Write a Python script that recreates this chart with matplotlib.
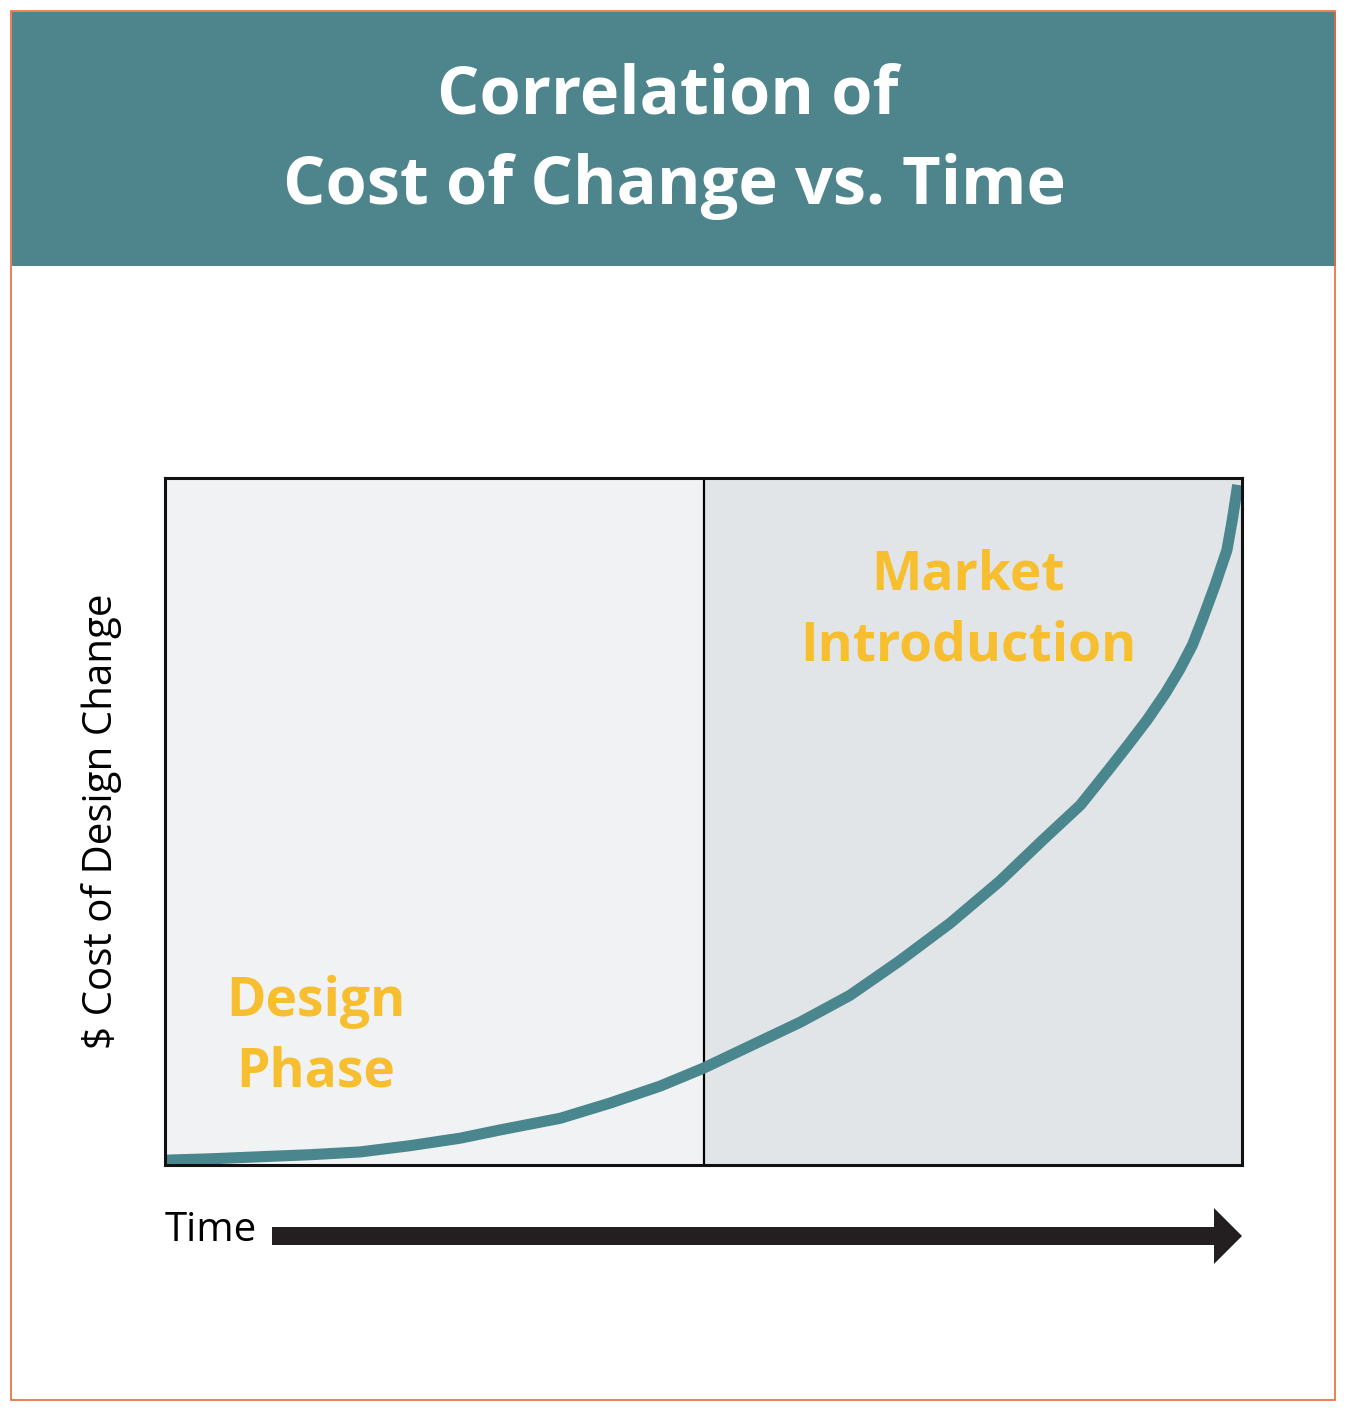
import matplotlib.pyplot as plt
from matplotlib.patches import Rectangle, FancyArrow

# curve: time (0-100) vs cost of change (0-100)
time = [0, 4.2, 8.8, 13.5, 18.1, 22.7, 27.4, 31.1, 36.7, 41.3, 46.0, 50.0,
        54.3, 59.0, 63.6, 68.2, 72.9, 77.5, 81.5, 85.0, 87.6, 89.4, 91.2,
        92.9, 94.2, 95.4, 96.3, 97.5, 98.6, 99.1, 99.6]
cost = [0.7, 0.9, 1.2, 1.5, 1.9, 2.8, 3.9, 5.1, 6.8, 9.0, 11.5, 14.1,
        17.3, 20.8, 24.7, 29.7, 35.2, 41.3, 47.3, 52.4, 57.5, 61.1, 64.8,
        68.7, 72.1, 75.7, 79.3, 84.4, 89.5, 93.9, 99.0]

phase_split = 50
phase_labels = ["Design\nPhase", "Market\nIntroduction"]

TEAL = "#4e858c"
CURVE = "#4a868d"
YELLOW = "#f7bf2f"
FONT = "Open Sans"

W, H = 1356, 1412
fig = plt.figure(figsize=(W / 100, H / 100), dpi=100)
fig.patch.set_facecolor("white")

# overlay in pixel coordinates for the frame, header band and time arrow
deco = fig.add_axes([0, 0, 1, 1])
deco.set_xlim(0, W)
deco.set_ylim(H, 0)
deco.axis("off")
deco.add_patch(Rectangle((12, 12), 1324, 254, facecolor=TEAL, edgecolor="none"))
deco.add_patch(Rectangle((11, 11), 1324, 1389, facecolor="none",
                         edgecolor="#e8693b", linewidth=1.2))
deco.text(668, 96, "Correlation of", ha="center", va="center", color="white",
          fontsize=48, fontweight="bold", family=FONT)
deco.text(674, 187, "Cost of Change vs. Time", ha="center", va="center",
          color="white", fontsize=48, fontweight="bold", family=FONT)
deco.add_patch(FancyArrow(272, 1236, 970, 0, width=18, head_width=56,
                          head_length=28, length_includes_head=True,
                          facecolor="#231f20", edgecolor="none"))
deco.text(165, 1231, "Time", ha="left", va="center", color="black",
          fontsize=29, family=FONT)

ax = fig.add_axes([165 / W, 1 - 1165 / H, 1077 / W, 687 / H])
ax.set_xlim(0, 100)
ax.set_ylim(0, 100)
ax.axvspan(0, phase_split, color="#f1f2f3", zorder=0)
ax.axvspan(phase_split, 100, color="#e2e5e8", zorder=0)
ax.axvline(phase_split, color="black", linewidth=1.6, zorder=1)
ax.plot(time, cost, color=CURVE, linewidth=8, solid_capstyle="butt",
        solid_joinstyle="round", zorder=2)
ax.text(14.0, 18.6, phase_labels[0], ha="center", va="center", color=YELLOW,
        fontsize=38.5, fontweight="bold", family=FONT, linespacing=1.42)
ax.text(74.6, 80.6, phase_labels[1], ha="center", va="center", color=YELLOW,
        fontsize=38.5, fontweight="bold", family=FONT, linespacing=1.42)
ax.set_xticks([])
ax.set_yticks([])
for s in ax.spines.values():
    s.set_linewidth(2.2)
    s.set_color("#111111")
ax.set_ylabel("$ Cost of Design Change", fontsize=29, family=FONT,
              labelpad=31)

fig.savefig("out.png", dpi=100)
